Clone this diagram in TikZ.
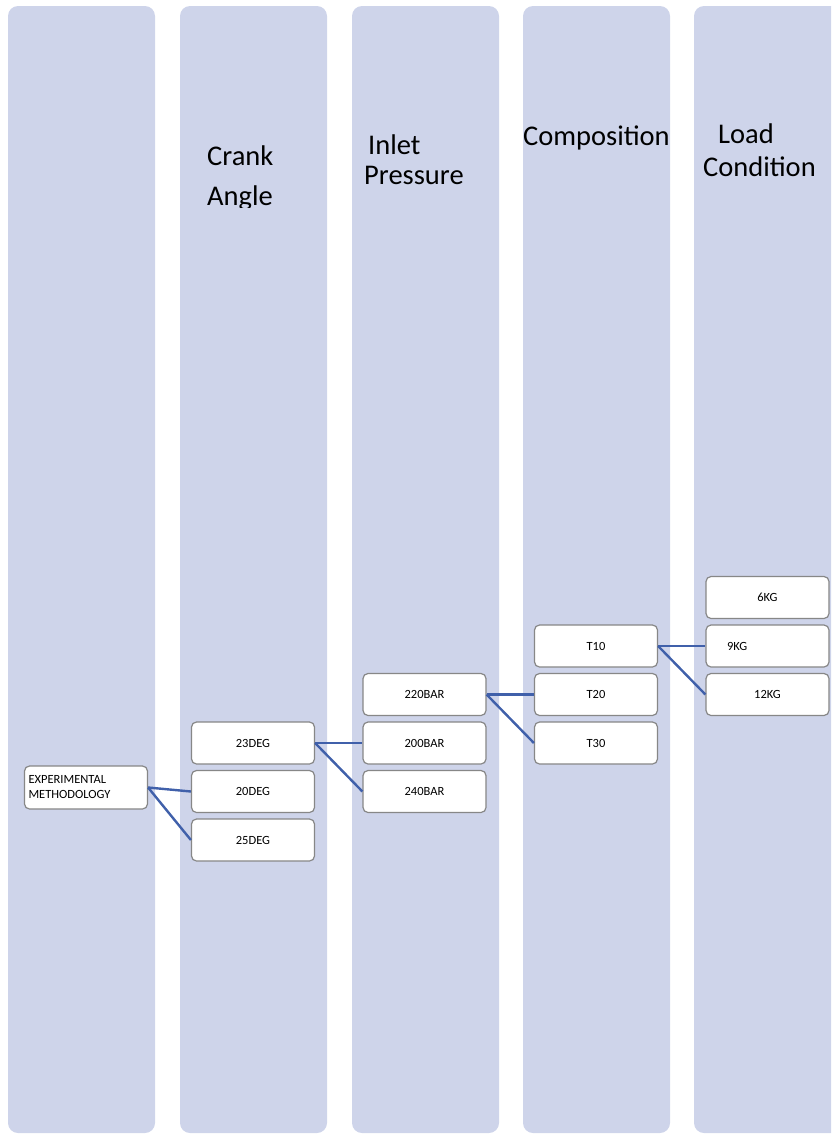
\documentclass[tikz,border=0pt]{standalone}
\usepackage{fontspec}
\setmainfont{Carlito}
\usetikzlibrary{positioning}
\definecolor{lanefill}{RGB}{206,212,234}
\definecolor{linkblue}{RGB}{64,96,170}
\definecolor{boxgray}{RGB}{135,135,135}

\begin{document}
\begin{tikzpicture}[x=1pt, y=-1pt, node distance=48.5pt]
%define

\tikzstyle{lane} = [fill = lanefill, rounded corners=10pt]
\tikzstyle{title} = [anchor=base west, inner sep=0pt, align=left, font=\fontsize{28.5}{30}\selectfont]
\tikzstyle{state_s} = [rectangle, rounded corners=5pt, minimum width=123pt, minimum height=42pt, text centered, draw=boxgray, line width=1.2pt, fill = white, font=\fontsize{12.5}{15}\selectfont]
\tikzstyle{state_l} = [state_s, text width=115pt, align=left]
\tikzstyle{link} = [draw=linkblue, line width=2.4pt]

\useasboundingbox (0,0) rectangle (831,1135);
\clip (0,0) rectangle (831,1135);

%lanes
\foreach \x in {8,180,352,523,694}
  \fill[lane] (\x,6) rectangle ++(147,1127);

%titles
\begin{scope}
\clip (180,100) rectangle (327,207);
\node[title] (title_crank) at (207,205) {Crank\\[10pt]Angle};
\end{scope}
\node[title] (title_inlet) at (364,184) {\hspace*{4pt}Inlet\\Pressure};
\node[title] (title_comp) at (523,145) {Composition};
\node[title] (title_load) at (703,176) {\hspace*{15pt}Load\\[3pt]Condition};

\node[state_l, minimum height=43pt](state_Exp) at (86,787.5){EXPERIMENTAL\\METHODOLOGY};
\node[state_s](state_23) at (253,743){23DEG};
\node[state_s, below of = state_23](state_20){20DEG};
\node[state_s, below of = state_20](state_25){25DEG};
\node[state_s, right of = state_23, xshift = 123pt, yshift = 48.5pt](state_220){220BAR};
\node[state_s, below of = state_220](state_200){200BAR};
\node[state_s, below of = state_200](state_240){240BAR};
\node[state_s, right of = state_220, xshift = 123pt, yshift = 48.5pt](state_T10){T10};
\node[state_s, below of = state_T10](state_T20){T20};
\node[state_s, below of = state_T20](state_T30){T30};
\node[state_s, right of = state_T10, xshift = 123pt, yshift = 48.5pt](state_6){6KG};
\node[state_l, below of = state_6](state_9){\hspace*{17pt}9KG};
\node[state_s, below of = state_9](state_12){12KG};
%line

\draw[link](state_Exp.east)--(state_20.west);
\draw[link](state_Exp.east)--(state_25.west);
\draw[link](state_23.east)--(state_200.west);
\draw[link](state_23.east)--(state_240.west);
\draw[link](state_220.east)--(state_T20.west);
\draw[link](state_220.east)--(state_T30.west);
\draw[link](state_T10.east)--(state_9.west);
\draw[link](state_T10.east)--(state_12.west);

\end{tikzpicture}
\end{document}
